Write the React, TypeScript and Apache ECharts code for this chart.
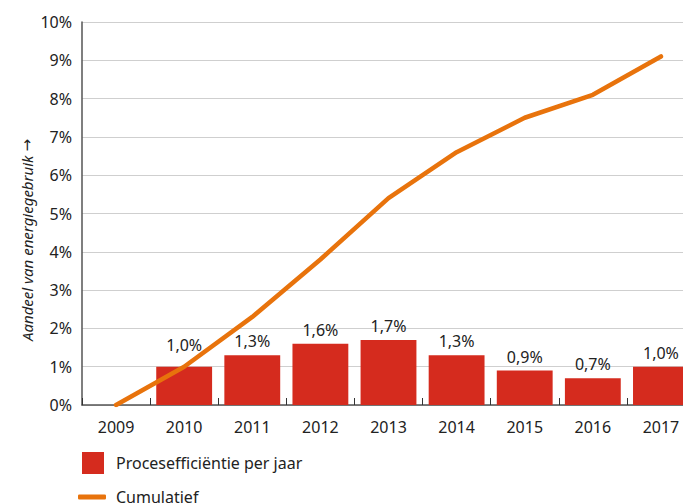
import React, { useEffect, useRef } from "react";
import * as echarts from "echarts";

const years = ["2009", "2010", "2011", "2012", "2013", "2014", "2015", "2016", "2017"];
const perYear: (number | null)[] = [null, 1.0, 1.3, 1.6, 1.7, 1.3, 0.9, 0.7, 1.0];
const cumulative = [0, 1.0, 2.3, 3.8, 5.4, 6.6, 7.5, 8.1, 9.1];
const barName = "Procesefficiëntie per jaar";
const lineName = "Cumulatief";
const yAxisTitle = "Aandeel van energiegebruik";
const yAxisArrow = "→";

const FONT = "Noto Sans";
const fmt = (v: number) => v.toFixed(1).replace(".", ",") + "%";

export default function App() {
  const ref = useRef<HTMLDivElement>(null);
  useEffect(() => {
    if (!ref.current) return;
    const chart = echarts.init(ref.current, undefined, { renderer: "svg" });
    chart.setOption({
      animation: false,
      textStyle: { fontFamily: FONT },
      grid: { left: 82, top: 22, bottom: 98, width: 613 },
      graphic: [
        {
          type: "text",
          x: 27,
          y: 240,
          rotation: Math.PI / 2,
          style: {
            text: "{a|" + yAxisTitle + " }{b|" + yAxisArrow + "}",
            rich: {
              a: { fontFamily: FONT, fontSize: 15, fontStyle: "italic", fill: "#222", color: "#222" },
              b: { fontFamily: "DejaVu Sans", fontSize: 15, fill: "#222", color: "#222" },
            },
            fill: "#222",
            textAlign: "center",
            textVerticalAlign: "middle",
          },
        },
      ],
      legend: [
        {
          data: [barName],
          left: 82,
          top: 452,
          padding: 0,
          itemWidth: 22,
          itemHeight: 22,
          icon: "rect",
          textStyle: { fontSize: 16, color: "#222", fontFamily: FONT, padding: [0, 0, 0, 7] },
        },
        {
          data: [lineName],
          left: 78,
          top: 489,
          padding: 0,
          itemWidth: 28,
          itemHeight: 5,
          icon: "roundRect",
          textStyle: { fontSize: 16, color: "#222", fontFamily: FONT, padding: [0, 0, 0, 5] },
        },
      ],
      xAxis: {
        type: "category",
        data: years,
        boundaryGap: true,
        axisLine: { lineStyle: { color: "#555", width: 1.5 } },
        axisTick: { show: true, inside: true, length: 7, lineStyle: { color: "#333" } },
        axisLabel: { fontSize: 16, color: "#222", margin: 14, fontFamily: FONT },
        splitLine: { show: false },
      },
      yAxis: {
        type: "value",
        min: 0,
        max: 10,
        interval: 1,
        axisLine: { show: true, lineStyle: { color: "#555", width: 1.5 } },
        axisTick: { show: false },
        axisLabel: {
          fontSize: 16,
          color: "#222",
          margin: 10,
          fontFamily: FONT,
          formatter: (v: number) => v + "%",
        },
        splitLine: { lineStyle: { color: "#cfcfcf", width: 1 } },
      },
      series: [
        {
          name: barName,
          type: "bar",
          data: perYear.map((v, i) => (i === 1 ? { value: v, label: { distance: 14 } } : v)),
          barCategoryGap: "18%",
          itemStyle: { color: "#d52b1e" },
          label: {
            show: true,
            position: "top",
            distance: 6,
            fontSize: 16,
            color: "#222",
            fontFamily: FONT,
            formatter: (p: any) => fmt(p.value),
          },
        },
        {
          name: lineName,
          type: "line",
          data: cumulative.map((v, i) =>
            i === cumulative.length - 1
              ? {
                  value: v,
                  label: {
                    show: true,
                    position: "top",
                    distance: 12,
                    fontSize: 16,
                    color: "#222",
                    fontFamily: FONT,
                    formatter: (p: any) => fmt(p.value),
                  },
                }
              : v
          ),
          showSymbol: false,
          symbol: "none",
          lineStyle: { color: "#e8730c", width: 4.5, cap: "round" },
          itemStyle: { color: "#e8730c" },
          z: 5,
        },
      ],
    });
    return () => chart.dispose();
  }, []);
  return (
    <div style={{ position: "absolute", left: 0, top: 0, width: 683, height: 503, overflow: "hidden" }}>
      <div ref={ref} style={{ width: 700, height: 503 }} />
    </div>
  );
}
